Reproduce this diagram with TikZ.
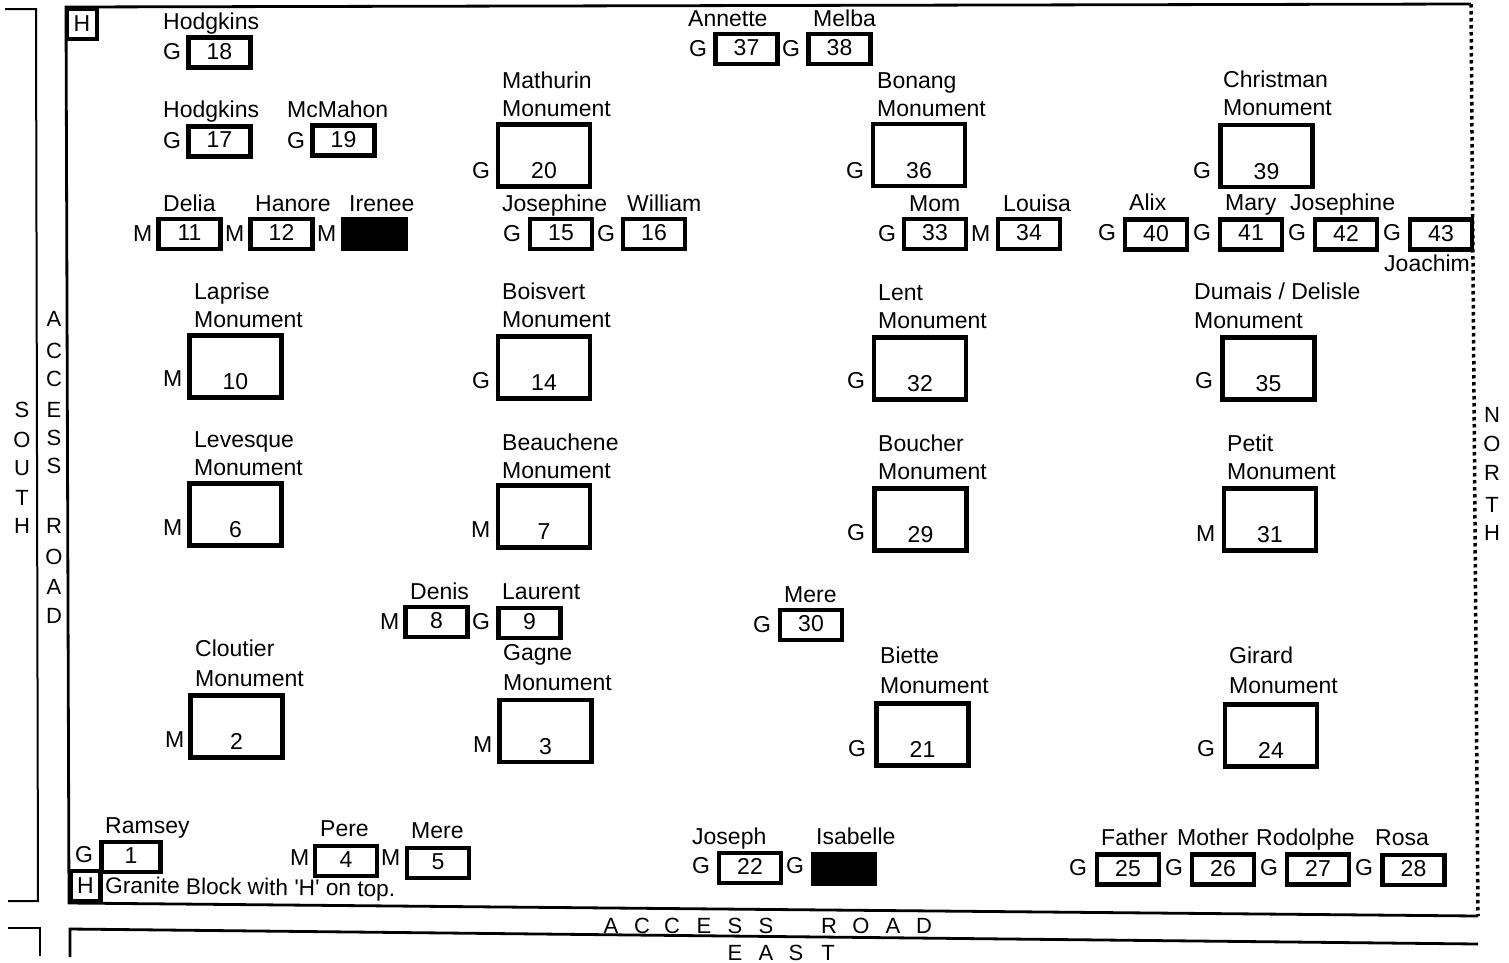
\documentclass[tikz,border=0pt]{standalone}
\usepackage{fontspec}
\setmainfont{Liberation Sans}

\begin{document}
\begin{tikzpicture}[
         x=1pt, y=-1pt,
         word/.style={font=\fontsize{23}{27}\selectfont, inner sep=0pt, anchor=base west},
         digit/.style={font=\fontsize{23}{27}\selectfont, inner sep=0pt},
         letter/.style={font=\fontsize{22}{26}\selectfont, inner sep=0pt},
         smallplot/.style={draw, line width=4.5pt, inner sep=0pt, minimum width=62pt, minimum height=30pt, text depth=3pt, digit},
         bigplot/.style={draw, line width=4.5pt, inner sep=0pt, minimum width=92pt, minimum height=62pt},
         hblock/.style={draw, fill=white, line width=4.5pt, inner sep=0pt, minimum width=30pt, minimum height=30pt, digit},
         road/.style={line width=2.8pt},
         fence/.style={line width=3.5pt, dash pattern=on 3.5pt off 3.5pt}
      ]
         \useasboundingbox (0,0) rectangle (1509,962);

         % Corners of the lots and roads
         \coordinate (nw) at (66,7);
         \coordinate (ne) at (1471,4);
         \coordinate (se) at (1478,916);
         \coordinate (sw) at (69,903);
         \coordinate (roadw) at (70,929);
         \coordinate (roade) at (1478,944);

         % Lines of the cemetery
         \draw[road] (ne) -- (nw) -- (sw) -- (se);
         \draw[fence] (ne) -- (se);
         \draw[road] (70,957) -- (roadw) -- (roade);
         \draw[line width=2pt] (5,9) -- (36,9) -- (38,901) -- (8,901);
         \draw[line width=2pt] (8,928) -- (40,928) -- (40,956);

         % Small plots
         \foreach \cx/\cy/\n in {219.5/52.5/18, 219.5/141.5/17, 343.5/140.5/19, 189.5/234/11, 281.5/234/12,
               561/234/15, 654/234/16, 935/234/33, 1029/234/34, 1156/234.5/40, 1251/234.5/41,
               1346/234.5/42, 1441/234.5/43, 746.5/49/37, 839.5/49/38, 436.5/622/8, 529.5/623/9,
               811/625/30, 346/861/4, 438/863/5, 750/868/22, 1128/869.5/25, 1223/869.5/26,
               1318/869.5/27, 1413.5/870/28}
            \node[smallplot] (p\n) at (\cx,\cy) {\n};
         \node[smallplot, minimum width=59pt] (p1) at (131,857) {1};

         % Black plots
         \node[smallplot, fill=black] (irenee) at (374.5,234) {};
         \node[smallplot, fill=black] (isabelle) at (844,869) {};

         % Monument plots
         \foreach \cx/\cy/\n in {544/155.5/20, 919/155/36, 1266.5/156/39, 235.5/366.5/10, 544/367.5/14,
               920/368.5/32, 1268.5/368.5/35, 235.5/514.5/6, 544/516.5/7, 920.5/519.5/29,
               1270/519.5/31, 236.5/726.5/2, 545.5/731/3, 922.5/734.5/21, 1271/735.5/24}
         {
            \node[bigplot] (p\n) at (\cx,\cy) {};
            \node[digit, anchor=base] (n\n) at ([yshift=10pt]p\n.south) {\n};
         }

         % Granite blocks
         \node[hblock] (htop) at (82,24) {H};
         \node[hblock] (hlow) at (85.5,886) {H};
         \node[word, rotate=-0.7, font=\fontsize{22.7}{27}\selectfont] (granite) at (105,893) {Granite Block with \textquotesingle H\textquotesingle{} on top.};

         % Names
         \foreach \cx/\cy/\txt [count=\i] in {163/29/Hodgkins, 163/117/Hodgkins, 287/117/McMahon, 163/211/Delia,
               255/211/Hanore, 349/211/Irenee, 688/26/Annette, 813/26/Melba, 502/211/Josephine,
               627/211/William, 909/211/Mom, 1003/211/Louisa, 1129/210/Alix, 1225/210/Mary,
               1290/210/Josephine, 1384/271/Joachim, 410/599/Denis, 502/599/Laurent, 784/602/Mere,
               105/833/Ramsey, 320/836/Pere, 411/838/Mere, 692/844/Joseph, 816/844/Isabelle,
               1101/845/Father, 1177/845/Mother, 1256/845/Rodolphe, 1375/845/Rosa}
            \node[word] (name\i) at (\cx,\cy) {\txt};

         % Monument names
         \foreach \cx/\cy/\gap/\txt [count=\i] in {502/88/28/Mathurin, 877/88/28/Bonang, 1223/87/28/Christman, 194/299/28/Laprise,
               502/299/28/Boisvert, 878/300/28/Lent, 194/447/28/Levesque, 502/450/28/Beauchene, 878/451/28/Boucher,
               1227/451/28/Petit, 503/660/30/Gagne, 195/656/30/Cloutier, 880/663/30/Biette, 1229/663/30/Girard}
         {
            \node[word] (mname\i) at (\cx,\cy) {\txt};
            \node[word] (mon\i) at ([yshift=-\gap pt]mname\i.base west) {Monument};
         }
         \node[word] (dumais) at (1194,299) {Dumais / Delisle};
         \node[word] (dumaismon) at (1194,328) {Monument};

         % Granite and marble marks
         \foreach \cx/\cy [count=\i] in {163/59, 163/148, 287/148, 689/56, 782/56, 472/178, 846/178, 1193/178,
               503/241, 597/241, 878/241, 1098/240, 1193/240, 1288/240, 1383/240, 472/388, 847/388,
               1195/388, 847/540, 472/629, 753/632, 848/756, 1197/756, 75/862, 692/873, 786/873,
               1069/875, 1165/875, 1260/875, 1355/875}
            \node[word] (g\i) at (\cx,\cy) {G};
         \foreach \cx/\cy [count=\i] in {133/241, 225/241, 317/241, 971/241, 163/386, 163/535, 471/537, 1196/541,
               380/629, 473/752, 165/747, 290/865, 381/865}
            \node[word] (m\i) at (\cx,\cy) {M};

         % Road and side letters
         \foreach \ly/\lt [count=\i] in {410/S, 440/O, 468/U, 498/T, 526/H}
            \node[letter] (south\i) at (22,\ly) {\lt};
         \foreach \ly/\lt [count=\i] in {319/A, 351/C, 379/C, 410/E, 438/S, 466/S, 526/R, 557/O, 587/A, 616/D}
            \node[letter] (left\i) at (54,\ly) {\lt};
         \foreach \ly/\lt [count=\i] in {415/N, 444/O, 473/R, 505/T, 533/H}
            \node[letter] (north\i) at (1492,\ly) {\lt};
         \foreach \lx/\lt [count=\i] in {611/A, 642/C, 672/C, 704/E, 735/S, 766/S, 829/R, 861/O, 893/A, 924/D}
            \node[letter] (road\i) at (\lx,926) {\lt};
         \foreach \lx/\lt [count=\i] in {735/E, 766/A, 796/S, 828/T}
            \node[letter] (east\i) at (\lx,952.5) {\lt};

      \end{tikzpicture}
\end{document}
